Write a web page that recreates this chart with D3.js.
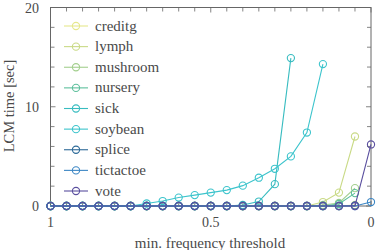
<!DOCTYPE html>
<html><head><meta charset="utf-8">
<script src="https://cdn.jsdelivr.net/npm/d3@7"></script>
<style>
html,body{margin:0;padding:0;background:#fff;}
svg{display:block;}
text{font-family:"Liberation Serif","DejaVu Serif",serif;fill:#4a4a4a;}
</style></head>
<body><svg id="c" width="376" height="250"></svg>
<script>
const thresholds = [1,0.95,0.9,0.85,0.8,0.75,0.7,0.65,0.6,0.55,0.5,0.45,0.4,0.35,0.3,0.25,0.2,0.15,0.1,0.05,0];
const seriesNames = ["creditg","lymph","mushroom","nursery","sick","soybean","splice","tictactoe","vote"];
const seriesColors = ["#e6e88c","#c9da86","#a3cf8e","#5dbf9c","#38bcc0","#3cc4cc","#2d6a98","#3b86c4","#5a4f9f"];
const creditg   = [0,0,0,0,0,0,0,0,0,0,0,0,0,0,0,0,0,0,0,0.1];
const lymph     = [0,0,0,0,0,0,0,0,0,0,0,0,0,0,0,0,0,0.4,1.35,7.0];
const mushroom  = [0,0,0,0,0,0,0,0,0,0,0,0,0,0,0,0,0,0.1,0.3,1.8];
const nursery   = [0,0,0,0,0,0,0,0,0,0,0,0,0,0,0,0,0,0,0.2,1.3];
const sick      = [0,0,0,0,0,0,0,0,0,0,0,0,0.1,0.45,2.2,14.9];
const soybean   = [0,0,0,0,0,0,0.25,0.5,0.85,1.1,1.35,1.6,2.05,2.85,3.75,5.0,7.4,14.3];
const splice    = [0,0,0,0,0,0,0,0,0,0,0,0,0,0,0,0,0,0,0,0.05];
const tictactoe = [0,0,0,0,0,0,0,0,0,0,0,0,0,0,0,0,0,0,0,0,0.4];
const vote      = [0,0,0,0,0,0,0,0,0,0,0,0,0,0,0,0,0,0,0,0,6.2];
const seriesValues = [creditg,lymph,mushroom,nursery,sick,soybean,splice,tictactoe,vote];
const yTicks = [0,10,20];
const yMinorTicks = [0,2,4,6,8,10,12,14,16,18,20];
const xTicks = [1,0.5,0];

const svg = d3.select("#c");
const L=50.5, R=371, T=7.5, B=206;
const x = d3.scaleLinear().domain([1,0]).range([L,R]);
const y = d3.scaleLinear().domain([0,20]).range([B,T]);
const frame="#666";

const g = svg.append("g");
thresholds.forEach(v=>{
  const big = xTicks.includes(v);
  g.append("line").attr("x1",x(v)).attr("x2",x(v)).attr("y1",T).attr("y2",T+(big?5:4)).attr("stroke",frame).attr("stroke-width",0.8);
  g.append("line").attr("x1",x(v)).attr("x2",x(v)).attr("y1",B).attr("y2",B-(big?5:4)).attr("stroke",frame).attr("stroke-width",0.8);
});
yMinorTicks.forEach(v=>{
  const big = yTicks.includes(v);
  g.append("line").attr("x1",L).attr("x2",L+(big?5:4)).attr("y1",y(v)).attr("y2",y(v)).attr("stroke",frame).attr("stroke-width",0.8);
  g.append("line").attr("x1",R).attr("x2",R-(big?5:4)).attr("y1",y(v)).attr("y2",y(v)).attr("stroke",frame).attr("stroke-width",0.8);
});
svg.append("rect").attr("x",L).attr("y",T).attr("width",R-L).attr("height",B-T).attr("fill","none").attr("stroke",frame).attr("stroke-width",1);

yTicks.forEach(v=>{
  svg.append("text").attr("x",39).attr("y",y(v)+5).attr("text-anchor","end").attr("font-size",14).text(v);
});
xTicks.forEach(v=>{
  svg.append("text").attr("x",x(v)).attr("y",227).attr("text-anchor","middle").attr("font-size",14).text(v);
});
svg.append("text").attr("transform","translate(14,106) rotate(-90)").attr("text-anchor","middle").attr("font-size",14.5).text("LCM time [sec]");
svg.append("text").attr("x",210).attr("y",247.5).attr("text-anchor","middle").attr("font-size",15).text("min. frequency threshold");

const line = d3.line().x((d,i)=>x(thresholds[i])).y(d=>y(d));
seriesValues.forEach((vals,k)=>{
  const c = seriesColors[k];
  const sg = svg.append("g");
  sg.append("path").attr("d",line(vals)).attr("fill","none").attr("stroke",c).attr("stroke-width",1.1);
  sg.selectAll("circle").data(vals).join("circle")
    .attr("cx",(d,i)=>x(thresholds[i])).attr("cy",d=>y(d)).attr("r",3.6)
    .attr("fill","none").attr("stroke",c).attr("stroke-width",1.1);
});

const legY = d3.scaleLinear().domain([0,8]).range([26,191]);
seriesNames.forEach((n,k)=>{
  const c = seriesColors[k];
  const yy = legY(k);
  svg.append("line").attr("x1",64).attr("x2",88).attr("y1",yy).attr("y2",yy).attr("stroke",c).attr("stroke-width",1.1);
  svg.append("circle").attr("cx",76).attr("cy",yy).attr("r",3.6).attr("fill","none").attr("stroke",c).attr("stroke-width",1.1);
  svg.append("text").attr("x",95).attr("y",yy+4.5).attr("font-size",15).text(n);
});
</script></body></html>
